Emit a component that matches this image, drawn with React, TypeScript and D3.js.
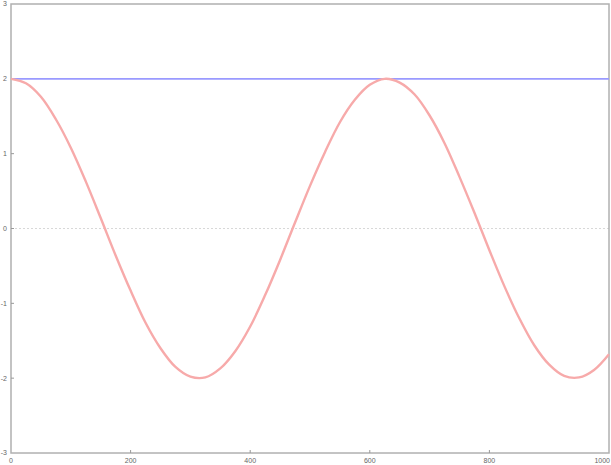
import React from "react";
import * as d3 from "d3";

// values at every 25 units of x
const xValues = [
  0, 25, 50, 75, 100, 125, 150, 175, 200, 225, 250, 275, 300, 325, 350, 375, 400,
  425, 450, 475, 500, 525, 550, 575, 600, 625, 650, 675, 700, 725, 750, 775, 800,
  825, 850, 875, 900, 925, 950, 975, 1000,
];
const waveValues = [
  2.0, 1.94, 1.76, 1.46, 1.08, 0.63, 0.14, -0.36, -0.83, -1.26, -1.6, -1.85, -1.98,
  -1.99, -1.87, -1.64, -1.31, -0.89, -0.42, 0.08, 0.57, 1.02, 1.42, 1.72, 1.92, 2.0,
  1.95, 1.79, 1.51, 1.14, 0.69, 0.21, -0.29, -0.77, -1.2, -1.56, -1.82, -1.97, -1.99,
  -1.89, -1.68,
];
const flatValue = 2;
const baseValue = 0;
const xTicks = [0, 200, 400, 600, 800, 1000];
const yTicks = [-3, -2, -1, 0, 1, 2, 3];

const App = () => {
  const width = 611;
  const height = 465;
  const margin = { top: 4, right: 2, bottom: 12, left: 11 };

  const xScale = d3
    .scaleLinear()
    .domain([0, 1000])
    .range([margin.left, width - margin.right]);
  const yScale = d3
    .scaleLinear()
    .domain([-3, 3])
    .range([height - margin.bottom, margin.top]);

  const data = xValues.map((x, i) => ({ x, y: waveValues[i] }));
  const line = d3
    .line<{ x: number; y: number }>()
    .x((d) => xScale(d.x))
    .y((d) => yScale(d.y))
    .curve(d3.curveCatmullRom);

  const x0 = xScale(0);
  const x1 = xScale(1000);
  const y0 = yScale(-3);
  const y1 = yScale(3);

  return (
    <svg
      width={width}
      height={height}
      style={{ position: "absolute", left: 0, top: 0, fontFamily: "Liberation Sans, sans-serif" }}
    >
      <rect x={0} y={0} width={width} height={height} fill="#fff" />
      {/* zero line */}
      <line
        x1={x0}
        x2={x1}
        y1={yScale(baseValue)}
        y2={yScale(baseValue)}
        stroke="#d8d8d8"
        strokeWidth={1}
        strokeDasharray="2,2"
      />
      {/* frame */}
      <rect
        x={x0}
        y={y1}
        width={x1 - x0}
        height={y0 - y1}
        fill="none"
        stroke="#b0b0b0"
        strokeWidth={1.5}
      />
      {/* ticks */}
      {yTicks.slice(1, -1).map((t) => (
        <line key={"yt" + t} x1={x0} x2={x0 + 3} y1={yScale(t)} y2={yScale(t)} stroke="#999" strokeWidth={1} />
      ))}
      {xTicks.slice(1, -1).map((t) => (
        <line key={"xt" + t} x1={xScale(t)} x2={xScale(t)} y1={y0} y2={y0 - 3} stroke="#999" strokeWidth={1} />
      ))}
      {/* tick labels */}
      {yTicks.map((t) => (
        <text
          key={"yl" + t}
          x={7}
          y={yScale(t)}
          dy="0.35em"
          textAnchor="end"
          fontSize={7}
          fill="#666"
        >
          {t}
        </text>
      ))}
      {xTicks.map((t, i) => (
        <text
          key={"xl" + t}
          x={i === xTicks.length - 1 ? width - 1 : xScale(t)}
          y={height - 2}
          textAnchor={i === xTicks.length - 1 ? "end" : "middle"}
          fontSize={7}
          fill="#666"
        >
          {t}
        </text>
      ))}
      {/* flat series */}
      <line
        x1={x0}
        x2={x1}
        y1={yScale(flatValue)}
        y2={yScale(flatValue)}
        stroke="#9a9aff"
        strokeWidth={1.6}
      />
      {/* wave series */}
      <path d={line(data) || ""} fill="none" stroke="#f7aaaa" strokeWidth={2.4} />
    </svg>
  );
};

export default App;
